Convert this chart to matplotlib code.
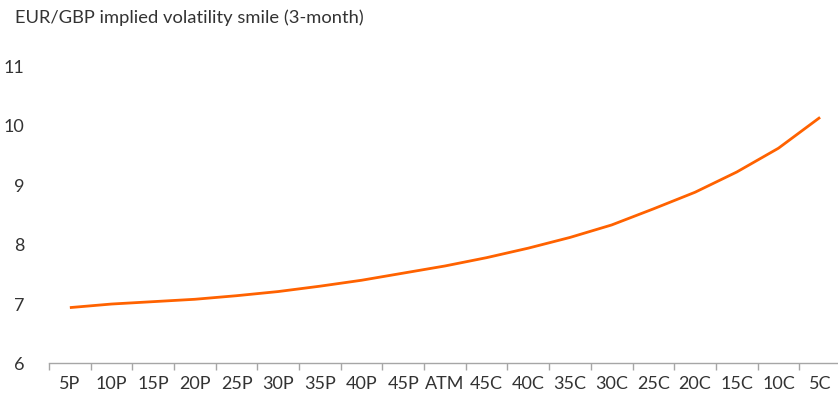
import numpy as np
import matplotlib.pyplot as plt
from matplotlib.ticker import FixedLocator

# Delta buckets from 5-delta put through ATM to 5-delta call
strikes = ['5P', '10P', '15P', '20P', '25P', '30P', '35P', '40P', '45P', 'ATM',
           '45C', '40C', '35C', '30C', '25C', '20C', '15C', '10C', '5C']
vols = [6.94, 7.00, 7.04, 7.08, 7.14, 7.21, 7.30, 7.40, 7.52, 7.64,
        7.78, 7.94, 8.12, 8.33, 8.60, 8.88, 9.22, 9.62, 10.14]
yticks = [6, 7, 8, 9, 10, 11]

plt.rcParams['font.family'] = ['Lato', 'DejaVu Sans']
text_col = '#333333'
orange = '#FF6200'

fig = plt.figure(figsize=(8.38, 3.98), dpi=100)
ax = fig.add_axes([0.0585, 0.0867, 0.9415, 0.747])

x = np.arange(len(strikes))
ax.plot(x, vols, color=orange, lw=2.0, solid_capstyle='butt')

ax.set_xlim(-0.5, 18.43)
ax.set_ylim(6, 11)

# category labels in the middle, small tick marks on the boundaries
ax.xaxis.set_major_locator(FixedLocator(np.arange(-0.5, len(strikes), 1.0)))
ax.xaxis.set_minor_locator(FixedLocator(x))
ax.set_xticklabels([], minor=False)
ax.set_xticklabels(strikes, minor=True, fontsize=13, color=text_col)
ax.tick_params(axis='x', which='major', length=5, width=1, color='#a6a6a6')
ax.tick_params(axis='x', which='minor', length=0, pad=9)

ax.set_yticks(yticks)
ax.set_yticklabels([str(v) for v in yticks], fontsize=13, color=text_col)
ax.tick_params(axis='y', length=0, pad=18)

for side in ['top', 'right', 'left']:
    ax.spines[side].set_visible(False)
ax.spines['bottom'].set_color('#a6a6a6')
ax.spines['bottom'].set_linewidth(1)

fig.text(0.018, 0.955, 'EUR/GBP implied volatility smile (3-month)',
         fontsize=13.2, color=text_col, ha='left', va='center')

fig.savefig('out.png', dpi=100)
